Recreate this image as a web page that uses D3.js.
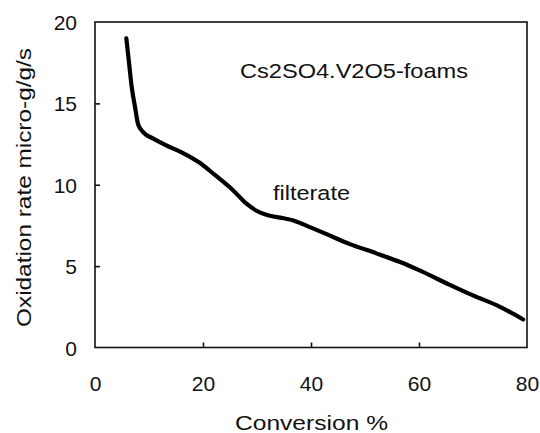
<!DOCTYPE html>
<html><head><meta charset="utf-8">
<script src="https://cdn.jsdelivr.net/npm/d3@7"></script>
<style>body{margin:0;background:#fff}text{font-family:"Liberation Sans",Arial,sans-serif;fill:#111}</style>
</head><body>
<svg id="c" width="540" height="433"></svg>
<script>
const conversion = [5.8,6.3,6.8,7.4,8.0,9.0,10.7,13.0,16.3,19.4,22.2,25.6,28.0,29.9,32.0,34.3,37.0,39.8,43.0,47.2,52.0,56.5,60.0,65.7,70.0,75.0,79.3];
const rate =       [19.0,17.5,16.0,14.8,13.7,13.2,12.85,12.45,11.95,11.35,10.6,9.65,8.85,8.4,8.12,7.98,7.78,7.4,6.95,6.35,5.8,5.25,4.75,3.85,3.2,2.5,1.72];
const xTicks = [0,20,40,60,80];
const yTicks = [0,5,10,15,20];
const xLabel = "Conversion  %";
const yLabel = "Oxidation rate  micro-g/g/s";
const title = "Cs2SO4.V2O5-foams";
const seriesName = "filterate";

const svg = d3.select("#c");
const x = d3.scaleLinear().domain([0,80]).range([95,527]);
const y = d3.scaleLinear().domain([0,20]).range([347.5,22]);

// frame
svg.append("rect").attr("x",x(0)).attr("y",y(20)).attr("width",x(80)-x(0)).attr("height",y(0)-y(20))
  .attr("fill","none").attr("stroke","#111").attr("stroke-width",1.6);

// axes with inward ticks
const xa = svg.append("g").attr("transform",`translate(0,${y(0)})`)
  .call(d3.axisBottom(x).tickValues(xTicks).tickSizeInner(-5).tickSizeOuter(0).tickPadding(29));
const ya = svg.append("g").attr("transform",`translate(${x(0)},0)`)
  .call(d3.axisLeft(y).tickValues(yTicks).tickSizeInner(-5).tickSizeOuter(0).tickPadding(18));
[xa,ya].forEach(a=>{
  a.select(".domain").remove();
  a.selectAll(".tick line").attr("stroke","#111").attr("stroke-width",1.6);
  a.selectAll(".tick text").attr("font-size",21).attr("fill","#111")
   .style("font-family","'Liberation Sans',Arial,sans-serif");
});
xa.selectAll(".tick line").filter(d=>d===0||d===80).remove();
ya.selectAll(".tick line").filter(d=>d===0||d===20).remove();
ya.selectAll(".tick text").attr("dy","0.36em");

// curve
const line = d3.line().x((d,i)=>x(conversion[i])).y((d,i)=>y(rate[i])).curve(d3.curveMonotoneX);
svg.append("path").datum(rate).attr("d",line).attr("fill","none").attr("stroke","#000")
  .attr("stroke-width",4.2).attr("stroke-linecap","round").attr("stroke-linejoin","round");

// texts
svg.append("text").attr("x",240).attr("y",78).attr("font-size",21)
  .attr("textLength",228).attr("lengthAdjust","spacingAndGlyphs").text(title);
svg.append("text").attr("x",273).attr("y",200).attr("font-size",20)
  .attr("textLength",77).attr("lengthAdjust","spacingAndGlyphs").text(seriesName);
svg.append("text").attr("x",235).attr("y",430).attr("font-size",21)
  .attr("textLength",153).attr("lengthAdjust","spacingAndGlyphs").text(xLabel);
svg.append("text").attr("transform","translate(31,327) rotate(-90)").attr("font-size",21)
  .attr("textLength",279).attr("lengthAdjust","spacingAndGlyphs").text(yLabel);
</script>
</body></html>
